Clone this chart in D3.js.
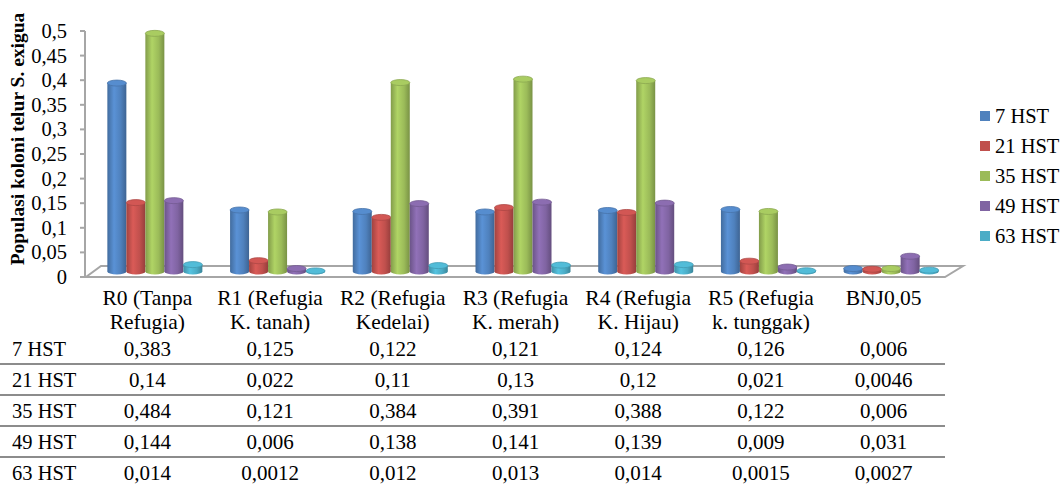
<!DOCTYPE html>
<html><head><meta charset="utf-8">
<script src="https://cdn.jsdelivr.net/npm/d3@7/dist/d3.min.js"></script>
<style>
html,body{margin:0;padding:0;background:#fff;}
</style></head>
<body><svg id="c" width="1064" height="489"></svg>
<script>
const categories = [["R0 (Tanpa","Refugia)"],["R1 (Refugia","K. tanah)"],["R2 (Refugia","Kedelai)"],["R3 (Refugia","K. merah)"],["R4 (Refugia","K. Hijau)"],["R5 (Refugia","k. tunggak)"],["BNJ0,05"]];
const seriesNames = ["7 HST","21 HST","35 HST","49 HST","63 HST"];
const hst7  = [0.383, 0.125, 0.122, 0.121, 0.124, 0.126, 0.006];
const hst21 = [0.14, 0.022, 0.11, 0.13, 0.12, 0.021, 0.0046];
const hst35 = [0.484, 0.121, 0.384, 0.391, 0.388, 0.122, 0.006];
const hst49 = [0.144, 0.006, 0.138, 0.141, 0.139, 0.009, 0.031];
const hst63 = [0.014, 0.0012, 0.012, 0.013, 0.014, 0.0015, 0.0027];
const seriesValues = [hst7, hst21, hst35, hst49, hst63];
const colors = ["#4F81BD","#C0504D","#9BBB59","#8064A2","#4BACC6"];
const yTicks = [0,0.05,0.1,0.15,0.2,0.25,0.3,0.35,0.4,0.45,0.5];
const yTitle = "Populasi koloni telur  S. exigua";

const svg = d3.select("#c");
const FONT = "'Liberation Serif', 'Times New Roman', 'DejaVu Serif', serif";
const fmt = v => String(v).replace(".", ",");

const x = d3.scaleBand().domain(d3.range(categories.length)).range([86, 945]).padding(0);
const y = d3.scaleLinear().domain([0, 0.5]).range([277, 31]);
const depthDx = 15, depthDy = -11;
const barDx = depthDx/2, barDy = depthDy/2;
const barW = 19;
const xs = d3.scaleBand().domain(d3.range(seriesNames.length)).range([-barW*2.5, barW*2.5]).padding(0);

// gradients
const defs = svg.append("defs");
colors.forEach((c,i)=>{
  const g = defs.append("linearGradient").attr("id","g"+i).attr("x1","0").attr("x2","1").attr("y1","0").attr("y2","0");
  const col = d3.color(c);
  g.append("stop").attr("offset","0%").attr("stop-color", col.darker(0.5));
  g.append("stop").attr("offset","35%").attr("stop-color", col.brighter(0.35));
  g.append("stop").attr("offset","70%").attr("stop-color", col);
  g.append("stop").attr("offset","100%").attr("stop-color", col.darker(0.7));
});

// floor
const fl = [[x.range()[0], y(0)],[x.range()[1], y(0)],[x.range()[1]+depthDx+3, y(0)+depthDy],[x.range()[0]+depthDx, y(0)+depthDy]];
svg.append("polygon").attr("points", fl.map(p=>p.join(",")).join(" "))
  .attr("fill","#fff").attr("stroke","#a6a6a6").attr("stroke-width",2).attr("stroke-linejoin","miter");

// y axis
svg.append("line").attr("x1",85).attr("x2",85).attr("y1",y(0.5)).attr("y2",y(0)).attr("stroke","#a6a6a6").attr("stroke-width",2);
svg.selectAll(".tk").data(yTicks).join("line").attr("x1",80).attr("x2",85)
  .attr("y1",d=>y(d)).attr("y2",d=>y(d)).attr("stroke","#a6a6a6").attr("stroke-width",2);
svg.selectAll(".tl").data(yTicks).join("text").attr("x",67).attr("y",d=>y(d)+7)
  .attr("text-anchor","end").attr("font-family",FONT).attr("font-size",20.5).text(d=>fmt(+d.toFixed(2)));

// y title
svg.append("text").attr("transform","translate(24,139) rotate(-90)").attr("text-anchor","middle")
  .attr("font-family",FONT).attr("font-size",19.5).attr("font-weight","bold").text(yTitle);

// bars
const ry = 3;
const yb = v => y(v) + barDy;
seriesValues.forEach((vals, si)=>{
  const g = svg.append("g");
  vals.forEach((v, ci)=>{
    const x0 = x(ci) + x.bandwidth()/2 + barDx + xs(si);
    const cx = x0 + barW/2;
    const yTop = yb(v), yBot = yb(0);
    const col = d3.color(colors[si]);
    g.append("ellipse").attr("cx",cx).attr("cy",yBot).attr("rx",barW/2).attr("ry",ry).attr("fill","url(#g"+si+")");
    g.append("rect").attr("x",x0).attr("y",yTop).attr("width",barW).attr("height",Math.max(0,yBot-yTop)).attr("fill","url(#g"+si+")");
    g.append("ellipse").attr("cx",cx).attr("cy",yTop).attr("rx",barW/2).attr("ry",ry)
      .attr("fill", col.brighter(0.25)).attr("stroke", col.darker(0.3)).attr("stroke-width",0.8);
  });
});

// category labels
categories.forEach((lines, ci)=>{
  const t = svg.append("text").attr("text-anchor","middle").attr("font-family",FONT).attr("font-size",21.5);
  lines.forEach((ln, li)=>{
    t.append("tspan").attr("x", x(ci)+x.bandwidth()/2).attr("y", 305 + li*24).text(ln);
  });
});

// data table
const rowY = d3.scaleBand().domain(d3.range(seriesNames.length)).range([333, 488]).padding(0);
seriesNames.forEach((name, si)=>{
  const cy = rowY(si) + rowY.bandwidth()/2;
  svg.append("text").attr("x",12).attr("y",cy+7).attr("font-family",FONT).attr("font-size",20.5).text(name);
  seriesValues[si].forEach((v, ci)=>{
    svg.append("text").attr("x", x(ci)+x.bandwidth()/2).attr("y", cy+7).attr("text-anchor","middle").attr("font-family",FONT).attr("font-size",21).text(fmt(v));
  });
  if (si < seriesNames.length-1) {
    const ly = rowY(si) + rowY.bandwidth();
    svg.append("line").attr("x1",0).attr("x2",945).attr("y1",ly).attr("y2",ly).attr("stroke","#8c8c8c").attr("stroke-width",2);
  }
});

// legend
seriesNames.forEach((name, si)=>{
  const cy = 116 + si*30;
  svg.append("rect").attr("x",980).attr("y",cy-5).attr("width",10).attr("height",10).attr("fill",colors[si]);
  svg.append("text").attr("x",995).attr("y",cy+7).attr("font-family",FONT).attr("font-size",20.5).text(name);
});
</script></body></html>
